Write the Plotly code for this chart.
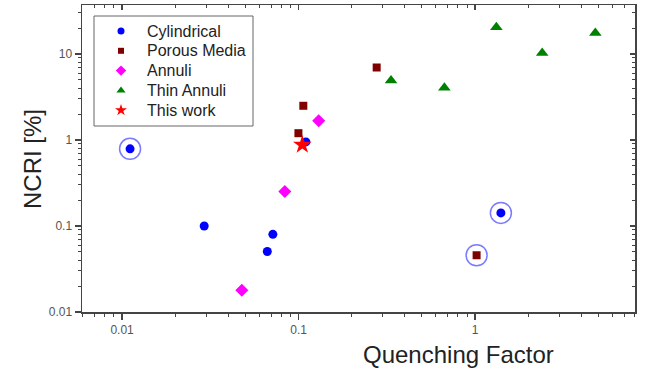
import plotly.graph_objects as go

# ---- data ----
cyl_x = [0.0111, 0.0292, 0.0715, 0.0665, 0.110, 1.40]
cyl_y = [0.79, 0.100, 0.080, 0.0505, 0.95, 0.142]

por_x = [0.1064, 0.0998, 0.277, 1.02]
por_y = [2.5, 1.2, 6.97, 0.0457]

ann_x = [0.0477, 0.0836, 0.130]
ann_y = [0.0179, 0.252, 1.67]

thin_x = [0.334, 0.670, 1.32, 2.40, 4.8]
thin_y = [4.92, 4.05, 20.5, 10.3, 17.5]

this_x = [0.105]
this_y = [0.88]

# highlighted (circled) points
hl_x = [cyl_x[0], cyl_x[5], por_x[3]]
hl_y = [cyl_y[0], cyl_y[5], por_y[3]]

names = ["Cylindrical", "Porous Media", "Annuli", "Thin Annuli", "This work"]
colors = ["#0000FF", "#800000", "#FF00FF", "#008000", "#FF0000"]
symbols = ["circle", "square", "diamond", "triangle-up", "star"]
sizes = [9, 8, 10, 11, 14]
leg_sizes = [7, 6, 8, 8, 9]

x_ticks = [0.01, 0.1, 1]
x_tick_text = ["0.01", "0.1", "1"]
y_ticks = [0.01, 0.1, 1, 10]
y_tick_text = ["0.01", "0.1", "1", "10"]

# ---- layout geometry (pixels) ----
L, T, R, B = 82, 5, 635, 312
W, H = R - L, B - T

def px(x):
    return (x - L) / W

def py(y):
    return (B - y) / H

fig = go.Figure()

# highlight rings
fig.add_trace(go.Scatter(x=hl_x, y=hl_y, mode="markers", showlegend=False,
                         hoverinfo="skip",
                         marker=dict(symbol="circle-open", size=21,
                                     color="rgba(90,90,255,0.8)",
                                     line=dict(width=1.5))))

series = [(cyl_x, cyl_y), (por_x, por_y), (ann_x, ann_y), (thin_x, thin_y), (this_x, this_y)]
for (xs, ys), n, c, s, sz in zip(series, names, colors, symbols, sizes):
    fig.add_trace(go.Scatter(x=xs, y=ys, mode="markers", name=n, showlegend=False,
                             marker=dict(symbol=s, size=sz, color=c, line=dict(width=0))))

# dummy trace for mirrored inside ticks
fig.add_trace(go.Scatter(x=[None], y=[None], xaxis="x2", yaxis="y2", showlegend=False,
                         hoverinfo="skip"))

# ---- hand-drawn legend (keys on a pixel-coordinate overlay axis) ----
leg_box = (94, 16, 253, 126)
leg_key_x, leg_text_x = 121, 145
leg_row0, leg_row_step = 31, 19.8
leg_rows = [leg_row0 + i * leg_row_step for i in range(len(names))]
for n, c, s, sz, ry in zip(names, colors, symbols, leg_sizes, leg_rows):
    fig.add_trace(go.Scatter(x=[leg_key_x], y=[ry], xaxis="x3", yaxis="y3",
                             mode="markers", showlegend=False, hoverinfo="skip",
                             cliponaxis=False,
                             marker=dict(symbol=s, size=sz, color=c, line=dict(width=0))))
    fig.add_annotation(text=n, xref="paper", yref="paper", x=px(leg_text_x), y=py(ry),
                       xanchor="left", yanchor="middle", showarrow=False,
                       font=dict(size=16, color="#222"))

fig.add_shape(type="rect", xref="paper", yref="paper",
              x0=px(leg_box[0]), x1=px(leg_box[2]), y0=py(leg_box[3]), y1=py(leg_box[1]),
              line=dict(color="#666", width=1), fillcolor="white", layer="below")

xr = [-2.227, 0.906]
yr = [-2.0, 1.57]
axcol = "#444444"
xminor = [v * d for d in [0.001, 0.01, 0.1, 1] for v in range(2, 10)]
yminor = [v * d for d in [0.01, 0.1, 1, 10] for v in range(2, 10)]

fig.update_layout(
    width=649, height=379,
    margin=dict(l=L, r=649 - R, t=T, b=379 - B),
    paper_bgcolor="white", plot_bgcolor="white",
    font=dict(family="Liberation Sans, Arial, sans-serif", color="#222"),
    showlegend=False,
    xaxis=dict(type="log", range=xr, showgrid=False, zeroline=False, automargin=False,
               showline=True, linecolor=axcol, linewidth=1.5,
               ticks="outside", ticklen=6, tickwidth=1.2, tickcolor=axcol,
               tickvals=x_ticks, ticktext=x_tick_text,
               tickfont=dict(size=12, color="#555"),
               minor=dict(ticks="outside", ticklen=3, tickwidth=1, tickcolor=axcol,
                          tickvals=xminor)),
    yaxis=dict(type="log", range=yr, showgrid=False, zeroline=False, automargin=False,
               showline=True, linecolor=axcol, linewidth=1.5,
               ticks="outside", ticklen=6, tickwidth=1.2, tickcolor=axcol,
               tickvals=y_ticks, ticktext=y_tick_text,
               tickfont=dict(size=12, color="#555"),
               minor=dict(ticks="outside", ticklen=3, tickwidth=1, tickcolor=axcol,
                          tickvals=yminor)),
    xaxis2=dict(type="log", range=xr, overlaying="x", side="top", showgrid=False,
                automargin=False,
                zeroline=False, showline=True, linecolor=axcol, linewidth=1.5,
                ticks="inside", ticklen=5, tickwidth=1.2, tickcolor=axcol,
                tickvals=x_ticks, showticklabels=False,
                minor=dict(ticks="inside", ticklen=3, tickwidth=1, tickcolor=axcol,
                           tickvals=xminor)),
    yaxis2=dict(type="log", range=yr, overlaying="y", side="right", showgrid=False,
                automargin=False,
                zeroline=False, showline=True, linecolor=axcol, linewidth=1.5,
                ticks="inside", ticklen=5, tickwidth=1.2, tickcolor=axcol,
                tickvals=y_ticks, showticklabels=False,
                minor=dict(ticks="inside", ticklen=3, tickwidth=1, tickcolor=axcol,
                           tickvals=yminor)),
    xaxis3=dict(range=[L, R], overlaying="x", visible=False, automargin=False),
    yaxis3=dict(range=[B, T], overlaying="y", visible=False, automargin=False),
)

fig.add_annotation(text="NCRI [%]", xref="paper", yref="paper",
                   x=px(32), y=py(159), xanchor="center", yanchor="middle",
                   showarrow=False, textangle=-90, font=dict(size=24, color="#222"))
fig.add_annotation(text="Quenching Factor", xref="paper", yref="paper",
                   x=px(458), y=py(354), xanchor="center", yanchor="middle",
                   showarrow=False, font=dict(size=24, color="#222"))

fig.write_html("out.html", config={"displayModeBar": False, "staticPlot": True},
               post_script="document.body.style.margin='0';document.body.style.padding='0';")
